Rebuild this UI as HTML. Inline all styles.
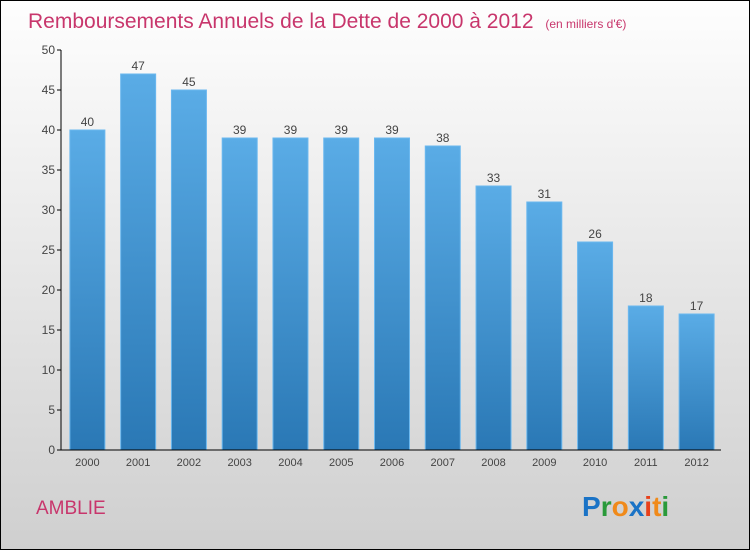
<!DOCTYPE html>
<html><head><meta charset="utf-8">
<style>
html,body{margin:0;padding:0}
body{width:750px;height:550px;overflow:hidden;font-family:"Liberation Sans",sans-serif}
</style></head>
<body>
<svg width="750" height="550" xmlns="http://www.w3.org/2000/svg">
<defs>
<linearGradient id="bg" x1="0" y1="0" x2="0" y2="1">
<stop offset="0" stop-color="#fefefe"/><stop offset="1" stop-color="#cfcfcf"/>
</linearGradient>
<linearGradient id="bar" x1="0" y1="0" x2="0" y2="1">
<stop offset="0" stop-color="#5aace6"/><stop offset="1" stop-color="#2a78b5"/>
</linearGradient>
</defs>
<rect x="0.5" y="0.5" width="749" height="549" fill="url(#bg)" stroke="#000"/>
<text x="28" y="28" font-size="21" fill="#c8366c">Remboursements Annuels de la Dette de 2000 à 2012 <tspan font-size="12" dx="6">(en milliers d'€)</tspan></text>
<g id="yaxis"></g>
<g id="bars"></g>
<g id="xaxis"></g>
<text x="36" y="514" font-size="19" fill="#c8366c">AMBLIE</text>
<text x="582" y="516" font-size="28" font-weight="bold"><tspan fill="#1a73c6">P</tspan><tspan fill="#2a9a3a">r</tspan><tspan fill="#f08a1a">o</tspan><tspan fill="#1a73c6">x</tspan><tspan fill="#e8401a">i</tspan><tspan fill="#f08a1a">t</tspan><tspan fill="#2a9a3a">i</tspan></text>
</svg>
<script>
const years=["2000","2001","2002","2003","2004","2005","2006","2007","2008","2009","2010","2011","2012"];
const values=[40,47,45,39,39,39,39,38,33,31,26,18,17];
const yTicks=[0,5,10,15,20,25,30,35,40,45,50];
const NS="http://www.w3.org/2000/svg";
const x0=61,x1=721,yTop=50,yBot=450,yMax=50;
const step=(x1-x0)/years.length,bw=35;
function y(v){return yBot-(v/yMax)*(yBot-yTop);}
function xc(i){return x0+step*(i+0.5)+1;}
function mk(tag,attrs,parent,txt){const e=document.createElementNS(NS,tag);for(const k in attrs)e.setAttribute(k,attrs[k]);if(txt!==undefined)e.textContent=txt;parent.appendChild(e);return e;}
const ya=document.getElementById('yaxis'),xa=document.getElementById('xaxis'),bg=document.getElementById('bars');
let l=mk('line',{x1:x0,y1:yTop,x2:x0,y2:yBot,stroke:'#000'},ya);


yTicks.forEach(t=>{
 const tk=mk('line',{x1:x0-4,y1:y(t),x2:x0,y2:y(t),stroke:'#000'},ya);
 
 
 const tl=mk('text',{x:x0-6,y:y(t)+4,'text-anchor':'end','font-size':'12',fill:'#444'},ya,String(t));
 
 
});
values.forEach((v,i)=>{
 const r=mk('rect',{x:xc(i)-bw/2,y:y(v),width:bw,height:yBot-y(v),fill:'url(#bar)',stroke:'#6bb8ef','stroke-width':'1'},bg);
 
 
 const t=mk('text',{x:xc(i),y:y(v)-4,'text-anchor':'middle','font-size':'12',fill:'#444'},bg,String(v));
 
 
 const xl=mk('text',{x:xc(i),y:yBot+16,'text-anchor':'middle','font-size':'11',fill:'#444'},xa,years[i]);
 
 
});
l=mk('line',{x1:x0,y1:yBot,x2:x1,y2:yBot,stroke:'#000'},xa);


</script>
</body></html>
